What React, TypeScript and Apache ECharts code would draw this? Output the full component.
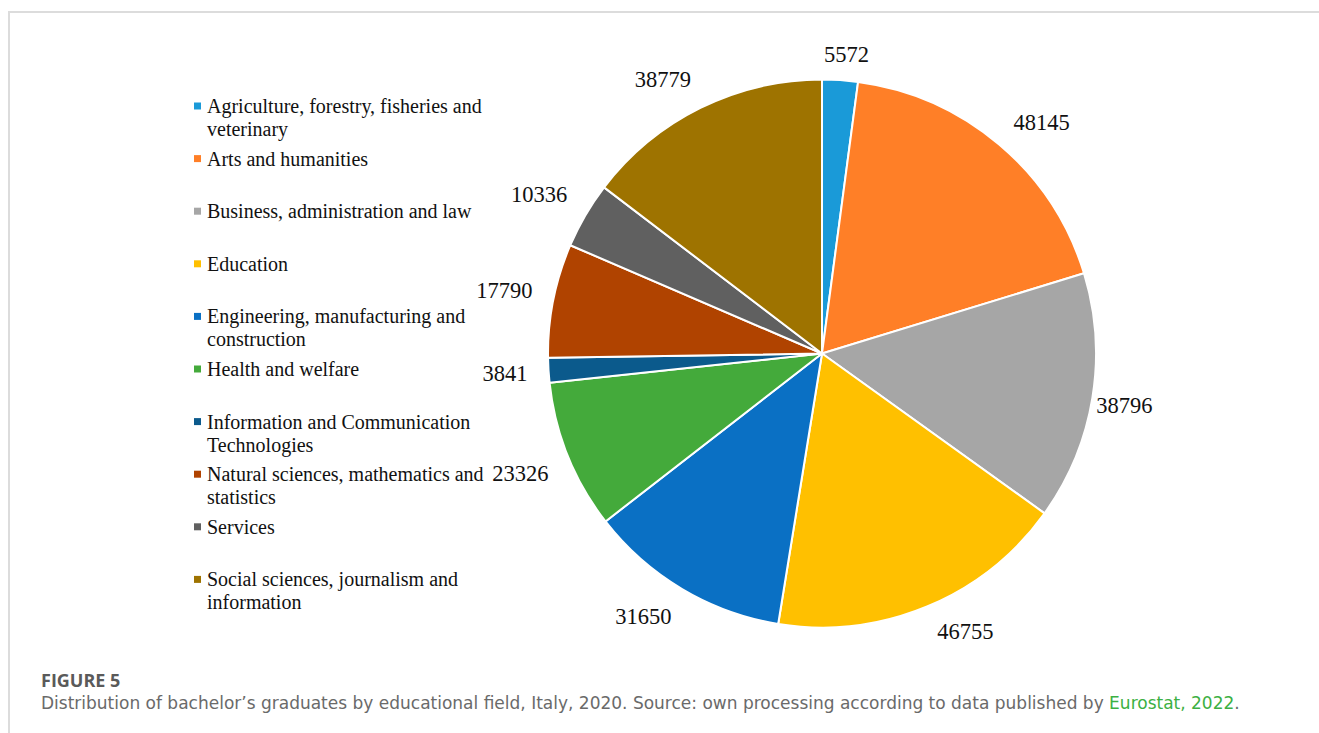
import React, { useEffect, useRef } from "react";
import * as echarts from "echarts";

const categories = [
  "Agriculture, forestry, fisheries and\nveterinary",
  "Arts and humanities",
  "Business, administration and law",
  "Education",
  "Engineering, manufacturing and\nconstruction",
  "Health and welfare",
  "Information and Communication\nTechnologies",
  "Natural sciences, mathematics and\nstatistics",
  "Services",
  "Social sciences, journalism and\ninformation",
];
const values = [5572, 48145, 38796, 46755, 31650, 23326, 3841, 17790, 10336, 38779];
const colors = [
  "#1a9ad8", "#ff7f27", "#a6a6a6", "#ffc000", "#0a70c4",
  "#44aa3b", "#0b5a8c", "#b04300", "#606060", "#9e7300",
];
const figureLabel = "FIGURE 5";
const captionText = "Distribution of bachelor\u2019s graduates by educational field, Italy, 2020. Source: own processing according to data published by ";
const captionLink = "Eurostat, 2022";

const CX = 822;
const CY = 353.5;
const R = 274;
const SERIF = '"Liberation Serif", "Times New Roman", serif';
const SANS = '"DejaVu Sans", sans-serif';

export default function App() {
  const ref = useRef<HTMLDivElement>(null);
  useEffect(() => {
    if (!ref.current) return;
    const chart = echarts.init(ref.current, null, { renderer: "svg" });
    const total = values.reduce((a, b) => a + b, 0);
    const mids: number[] = [];
    let acc = 0;
    values.forEach((v) => {
      const mid = acc + v / 2;
      acc += v;
      mids.push(Math.PI / 2 - (mid / total) * Math.PI * 2);
    });

    const legendGraphics: any[] = [];
    categories.forEach((name, i) => {
      const y0 = 106 + i * 52.6;
      legendGraphics.push({
        type: "rect",
        shape: { x: 194, y: y0 - 3.5, width: 7, height: 7 },
        style: { fill: colors[i] },
        silent: true,
      });
      legendGraphics.push({
        type: "text",
        x: 207,
        y: y0 - 11.5,
        style: {
          text: name,
          font: `20px ${SERIF}`,
          fill: "#111",
          lineHeight: 23,
          verticalAlign: "top",
          align: "left",
        },
        silent: true,
      });
    });

    chart.setOption({
      animation: false,
      backgroundColor: "#ffffff",
      graphic: [
        { type: "line", shape: { x1: 8, y1: 12, x2: 1319, y2: 12 }, style: { stroke: "#dcdcdc", lineWidth: 2 }, silent: true },
        { type: "line", shape: { x1: 9, y1: 12, x2: 9, y2: 733 }, style: { stroke: "#dcdcdc", lineWidth: 2 }, silent: true },
        ...legendGraphics,
        {
          type: "text",
          x: 41,
          y: 680,
          style: {
            text: figureLabel,
            font: `700 18px "Open Sans", sans-serif`,
            fill: "#5a5a5a",
            verticalAlign: "middle",
          },
          silent: true,
        },
        {
          type: "text",
          x: 41,
          y: 703,
          style: {
            text: captionText + "{g|" + captionLink + "}.",
            font: `17px ${SANS}`,
            fill: "#6a6a6a",
            verticalAlign: "middle",
            rich: {
              g: { fill: "#3cb043", font: `17px ${SANS}` },
            },
          },
          silent: true,
        },
      ],
      series: [
        {
          type: "pie",
          center: [CX, CY],
          radius: R,
          startAngle: 90,
          clockwise: true,
          avoidLabelOverlap: false,
          itemStyle: { borderColor: "#ffffff", borderWidth: 2 },
          label: {
            show: true,
            position: "outside",
            formatter: "{c}",
            fontFamily: SERIF,
            fontSize: 22.5,
            color: "#111",
          },
          labelLine: { show: false },
          emphasis: { disabled: true },
          labelLayout: (params: any) => {
            const i = params.dataIndex;
            const a = mids[i];
            const ux = Math.cos(a);
            const uy = -Math.sin(a);
            const hw = params.labelRect.width / 2;
            const hh = (params.labelRect.height / 2) * 0.85;
            const g = ux < 0 ? 21 : 16;
            const ax = Math.abs(ux);
            const xExtra = ux > 0 ? (ax > 0.9 ? -12 : 4 * Math.min(1, ax * 3)) : 0;
            const ex = CX + ux * R;
            const ey = CY + uy * R;
            const x = ex + ux * g + Math.sign(ux) * hw * Math.min(1, ax * 3) + xExtra;
            const y = ey + uy * g + Math.sign(uy) * hh * Math.min(1, Math.abs(uy) * 3);
            return { x, y, align: "center", verticalAlign: "middle" };
          },
          data: categories.map((name, i) => ({
            name,
            value: values[i],
            itemStyle: { color: colors[i] },
          })),
        },
      ],
    });
    return () => chart.dispose();
  }, []);
  return (
    <div
      ref={ref}
      style={{ position: "fixed", left: 0, top: 0, width: 1319, height: 733 }}
    />
  );
}
